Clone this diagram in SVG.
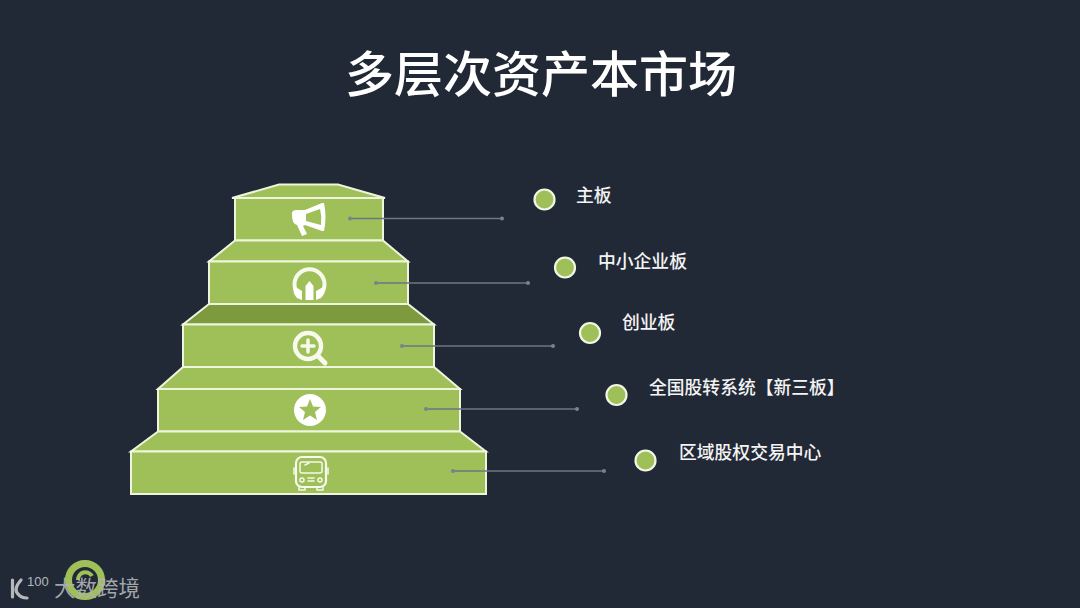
<svg xmlns="http://www.w3.org/2000/svg" width="1080" height="608" viewBox="0 0 1080 608">
<style>
text{font-family:"Noto Sans CJK SC","Noto Sans",sans-serif}
.s{fill:#9fbf58;stroke:#eef5dc;stroke-width:2;stroke-linejoin:miter}
.c{fill:#9fbf58;stroke:#f2f6e6;stroke-width:2.2}
.l{fill:#f4f4f4;font-size:17.8px;font-weight:500}
.w{fill:#fff}
.wl{fill:none;stroke:#f6f9ec;stroke-linecap:round;stroke-linejoin:round}
.cn{stroke:#6f7683;stroke-width:1.3;fill:none}
.dot{fill:#7b818d}
</style>
<rect width="1080" height="608" fill="#222936"/>
<text x="541" y="92" text-anchor="middle" font-size="49" font-weight="500" fill="#fff">多层次资产本市场</text>

<g id="step1">
<path class="s" d="M232 198L279 184.500H338L385 198Z"/>
<rect class="s" x="235" y="198" width="148" height="42.500"/>
<g id="icon1">
<path class="w" d="M292 215Q291 210 297 210L305 210L322 203L324 203Q327 217 324 231L322 231L305 225L303 226L307 234L302 236L297 225Q292 224 292 215Z"/>
<path d="M306 214L320 209Q322 217 321 225L306 221Z" fill="#9fbf58"/>
</g>
</g>
<g id="step2">
<path class="s" d="M235 240.500L209 261.500H408L383 240.500Z"/>
<rect class="s" x="209" y="261.500" width="199" height="42.500"/>
<g id="icon2">
<path class="wl" stroke-width="4" d="M299 295A15 15 0 1 1 320 295"/>
<path class="w" d="M294 286L302 291V300L297 298Q292 293 294 286Z M325 286L316 291V300L321 298Q326 293 325 286Z"/>
<path class="w" d="M309.500 281L313.500 286V300H305.500V286Z"/>
</g>
</g>
<g id="step3">
<path class="s" d="M209 304L183 324.500H434L408 304Z" style="fill:#7d9a3e"/>
<rect class="s" x="183" y="324.500" width="251" height="42.500"/>
<g id="icon3">
<circle class="wl" stroke-width="4.500" cx="308" cy="346" r="13"/>
<path class="wl" stroke-width="5" d="M318 356L325 363"/>
<path class="wl" stroke-width="3.500" d="M302 346H314M308 340V352"/>
</g>
</g>
<g id="step4">
<path class="s" d="M183 367L158 389H460L434 367Z"/>
<rect class="s" x="158" y="389" width="302" height="42.500"/>
<g id="icon4">
<circle class="w" cx="310" cy="410" r="16"/>
<path d="M310 399L313 406.500L321 407L315 412L317 420L310 415.500L303 420L305 412L299 407L307 406.500Z" fill="#9fbf58"/>
</g>
</g>
<g id="step5">
<path class="s" d="M158 431.500L131 451.500H486L460 431.500Z"/>
<rect class="s" x="131" y="451.500" width="355" height="42.500"/>
<g id="icon5">
<rect class="wl" stroke-width="2.200" x="296" y="457" width="30" height="30" rx="6"/>
<rect class="wl" stroke-width="1.500" x="300" y="462" width="22" height="11" rx="2"/>
<path class="wl" stroke-width="1.500" d="M294 468V474M328 468V474M299 487V490H305V487M317 487V490H323V487M308 478H314M308 481H314M305 465L309 463"/>
<circle class="wl" stroke-width="1.500" cx="302" cy="480" r="2"/>
<circle class="wl" stroke-width="1.500" cx="320" cy="480" r="2"/>
</g>
</g>

<g id="connectors">
<path class="cn" d="M350 218.500H502M376 283H528M402 346H553M426 409H577M453 471H604"/>
<g class="dot">
<circle cx="350" cy="218.500" r="2"/><circle cx="502" cy="218.500" r="2"/>
<circle cx="376" cy="283" r="2"/><circle cx="528" cy="283" r="2"/>
<circle cx="402" cy="346" r="2"/><circle cx="553" cy="346" r="2"/>
<circle cx="426" cy="409" r="2"/><circle cx="577" cy="409" r="2"/>
<circle cx="453" cy="471" r="2"/><circle cx="604" cy="471" r="2"/>
</g>
</g>

<g id="label1"><circle class="c" cx="544.500" cy="199.500" r="10"/><text class="l" x="576" y="202">主板</text></g>
<g id="label2"><circle class="c" cx="565" cy="267.500" r="10"/><text class="l" x="598" y="268">中小企业板</text></g>
<g id="label3"><circle class="c" cx="590" cy="333" r="10"/><text class="l" x="622" y="329">创业板</text></g>
<g id="label4"><circle class="c" cx="616.500" cy="395" r="10"/><text class="l" x="649" y="394">全国股转系统【新三板】</text></g>
<g id="label5"><circle class="c" cx="645.500" cy="460.500" r="10"/><text class="l" x="679" y="459">区域股权交易中心</text></g>

<g id="watermark">
<circle cx="85" cy="580" r="16.500" fill="none" stroke="#9fbf58" stroke-width="7"/>
<path d="M78 580A7.500 7.500 0 0 1 92 576" fill="none" stroke="#9fbf58" stroke-width="4"/>
<path d="M12.500 580V597M21 580Q13 589 18 594Q21 598 27 598" fill="none" stroke="#b6b8bc" stroke-width="3.200" stroke-linecap="round"/>
<text x="27" y="586" font-size="13" fill="#b6b8bc" style="font-family:'Liberation Sans',sans-serif">100</text>
<text x="54" y="596" font-size="21.500" fill="#b0b3b8" fill-opacity="0.92">大数跨境</text>
</g>
</svg>
